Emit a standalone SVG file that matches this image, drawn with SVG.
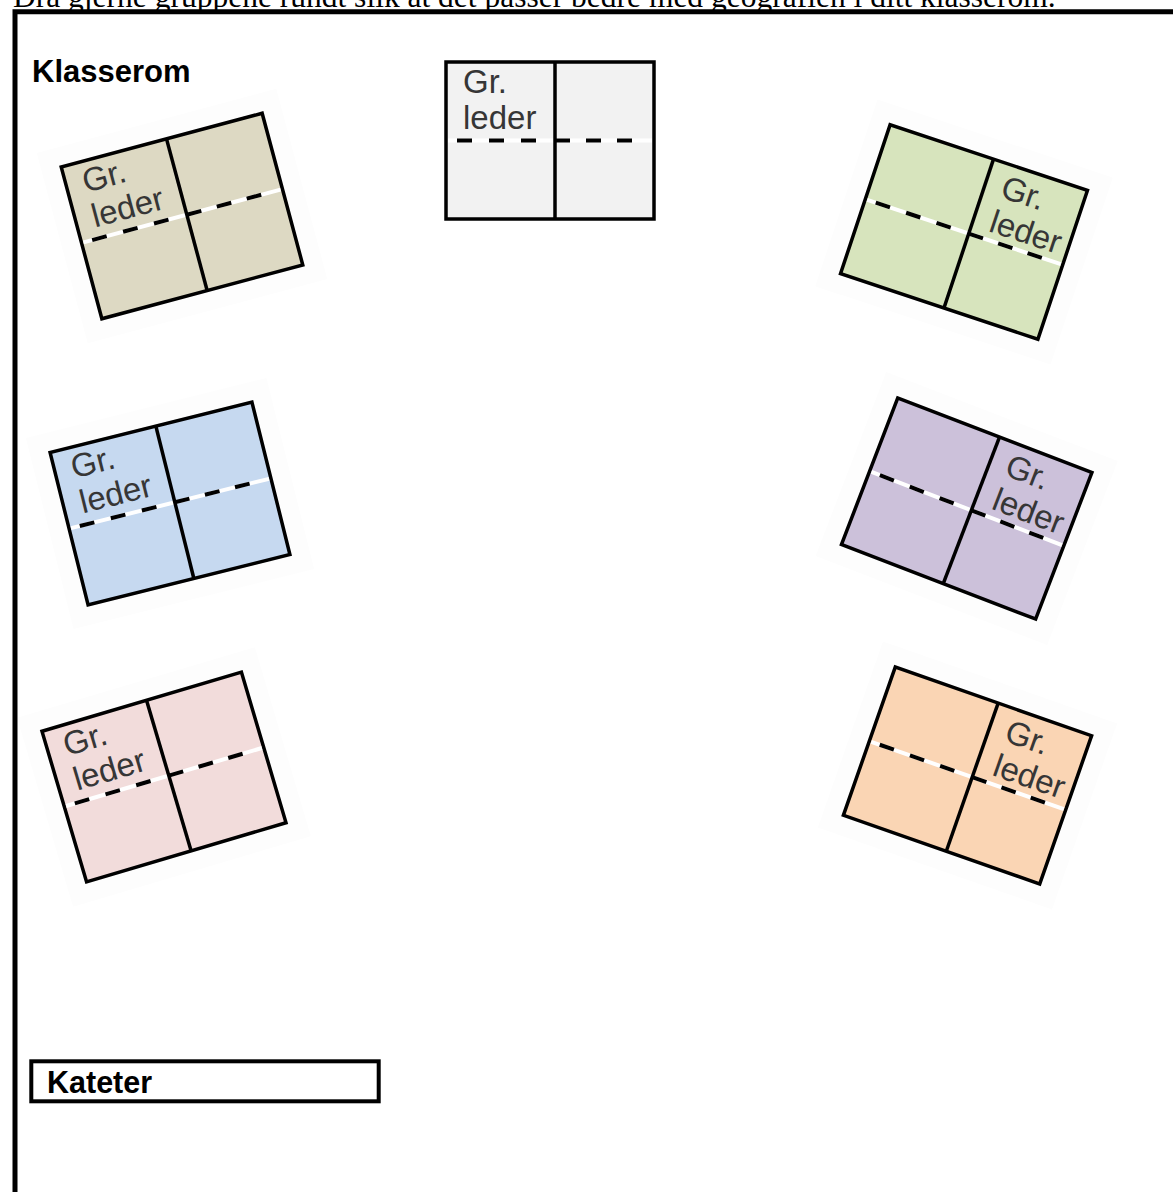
<svg xmlns="http://www.w3.org/2000/svg" xmlns:xlink="http://www.w3.org/1999/xlink" width="1173" height="1192" viewBox="0 0 1173 1192">
<style>
.frame{fill:none;stroke:#000;stroke-width:5}
.title{font-family:"Liberation Sans",Arial,sans-serif;font-weight:bold;fill:#000}
.intro{font-family:"Liberation Serif","Times New Roman",serif;font-size:31.5px;fill:#000}
.lbl{font-family:"Liberation Sans",Arial,sans-serif;font-size:33px;fill:#363636}
.edge{stroke:#000;stroke-width:3.5}
.wline{stroke:#fff;stroke-width:4}
.dash{stroke:#000;stroke-width:4}
</style>
<defs>
<g id="desk">
<rect x="0" y="0" width="208" height="157" class="edge"/>
<line x1="2" y1="78.5" x2="206" y2="78.5" class="wline"/>
<line x1="11" y1="78.5" x2="92" y2="78.5" class="dash" stroke-dasharray="15 17"/>
<line x1="109" y1="78.5" x2="190" y2="78.5" class="dash" stroke-dasharray="15 16"/>
<line x1="109" y1="0" x2="109" y2="157" class="edge"/>
</g>
<rect id="halo" x="-20" y="-20" width="248" height="197" fill="#fdfdfd"/>
</defs>

<text class="intro" x="13" y="7">Dra gjerne gruppene rundt slik at det passer bedre med geografien i ditt klasserom.</text>
<text class="title" x="32" y="82" font-size="31">Klasserom</text>

<g id="desk-top" transform="translate(550,140.5) translate(-104,-78.5)">
<use xlink:href="#desk" href="#desk" fill="#f2f2f2"/>
<text class="lbl" x="17" y="31">Gr.</text>
<text class="lbl" x="17" y="67">leder</text>
</g>

<g id="desk-tan" transform="translate(182,216) rotate(-15) translate(-104,-78.5)">
<use xlink:href="#halo" href="#halo"/>
<use xlink:href="#desk" href="#desk" fill="#ddd9c3"/>
<text class="lbl" x="17" y="31">Gr.</text>
<text class="lbl" x="17" y="67">leder</text>
</g>

<g id="desk-green" transform="translate(964,232) rotate(18.4) translate(-104,-78.5)">
<use xlink:href="#halo" href="#halo"/>
<use xlink:href="#desk" href="#desk" fill="#d7e4bd"/>
<text class="lbl" x="126" y="34">Gr.</text>
<text class="lbl" x="126" y="70">leder</text>
</g>

<g id="desk-blue" transform="translate(170,503.5) rotate(-14) translate(-104,-78.5)">
<use xlink:href="#halo" href="#halo"/>
<use xlink:href="#desk" href="#desk" fill="#c6d9f0"/>
<text class="lbl" x="17" y="31">Gr.</text>
<text class="lbl" x="17" y="67">leder</text>
</g>

<g id="desk-purple" transform="translate(966.7,508.5) rotate(21) translate(-104,-78.5)">
<use xlink:href="#halo" href="#halo"/>
<use xlink:href="#desk" href="#desk" fill="#ccc1da"/>
<text class="lbl" x="126" y="34">Gr.</text>
<text class="lbl" x="126" y="70">leder</text>
</g>

<g id="desk-pink" transform="translate(164,777) rotate(-16.5) translate(-104,-78.5)">
<use xlink:href="#halo" href="#halo"/>
<use xlink:href="#desk" href="#desk" fill="#f2dcdb"/>
<text class="lbl" x="17" y="31">Gr.</text>
<text class="lbl" x="17" y="67">leder</text>
</g>

<g id="desk-orange" transform="translate(967.5,775.5) rotate(19.3) translate(-104,-78.5)">
<use xlink:href="#halo" href="#halo"/>
<use xlink:href="#desk" href="#desk" fill="#fad5b4"/>
<text class="lbl" x="126" y="34">Gr.</text>
<text class="lbl" x="126" y="70">leder</text>
</g>

<g id="kateter">
<rect x="31.3" y="1061.3" width="347.4" height="40" fill="#fff" stroke="#000" stroke-width="4"/>
<text class="title" x="47" y="1093" font-size="30.5">Kateter</text>
</g>
<path class="frame" d="M15,1192 V11.8 H1175"/>
<g id="connectors"/>
</svg>
